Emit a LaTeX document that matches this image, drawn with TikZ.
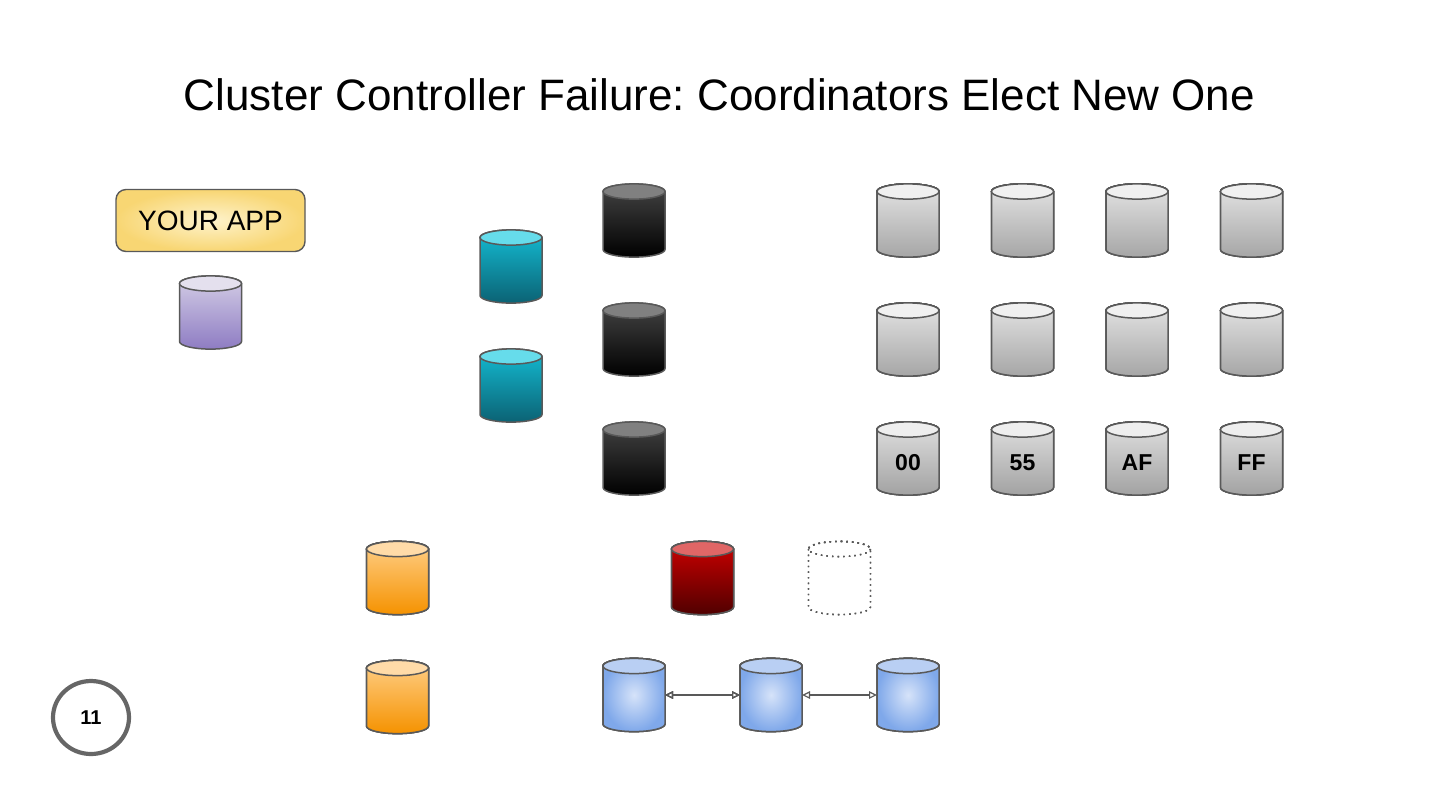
\documentclass[tikz,border=0pt]{standalone}
\usepackage{fontspec}
\setmainfont{Liberation Sans}
\frenchspacing
\usetikzlibrary{arrows.meta,shapes.geometric}
\definecolor{Edge}{HTML}{595959}
\definecolor{Ring}{HTML}{666666}
\definecolor{AppSoft}{HTML}{FEF3CC}
\definecolor{AppDeep}{HTML}{F8D673}
\definecolor{StoreCap}{HTML}{F0F0F0}
\definecolor{StoreHi}{HTML}{E4E4E4}
\definecolor{StoreLo}{HTML}{A6A6A6}
\definecolor{KeyCap}{HTML}{EEEEEE}
\definecolor{KeyHi}{HTML}{E0E0E0}
\definecolor{KeyLo}{HTML}{A2A2A2}
\definecolor{ClientCap}{HTML}{E4E0EE}
\definecolor{ClientHi}{HTML}{D4CEE6}
\definecolor{ClientLo}{HTML}{8E7CC3}
\definecolor{ProxyCap}{HTML}{66DCEB}
\definecolor{ProxyHi}{HTML}{14BCD3}
\definecolor{ProxyLo}{HTML}{0B6274}
\definecolor{LogCap}{HTML}{808080}
\definecolor{LogHi}{HTML}{444444}
\definecolor{LogLo}{HTML}{000000}
\definecolor{ResCap}{HTML}{FFDBA8}
\definecolor{ResHi}{HTML}{FFCF88}
\definecolor{ResLo}{HTML}{F59200}
\definecolor{FailCap}{HTML}{E06666}
\definecolor{FailHi}{HTML}{CC0000}
\definecolor{FailLo}{HTML}{500000}
\definecolor{CoordCap}{HTML}{B9CFF3}
\definecolor{CoordSoft}{HTML}{D6E3F9}
\definecolor{CoordDeep}{HTML}{7FA8EA}
\tikzset{
  drum/.style={rectangle,minimum width=31pt,minimum height=36.5pt,inner sep=0pt,outer sep=0pt,
    text height=12pt,text depth=0pt,font=\bfseries\fontsize{11.5}{13}\selectfont},
  edge/.style={draw=Edge,line width=.75pt},
  store/.style={edge,top color=StoreHi,bottom color=StoreLo},
  storecap/.style={edge,fill=StoreCap},
  keyed/.style={edge,top color=KeyHi,bottom color=KeyLo},
  keyedcap/.style={edge,fill=KeyCap},
  client/.style={edge,top color=ClientHi,bottom color=ClientLo},
  clientcap/.style={edge,fill=ClientCap},
  proxy/.style={edge,top color=ProxyHi,bottom color=ProxyLo},
  proxycap/.style={edge,fill=ProxyCap},
  tlog/.style={edge,top color=LogHi,bottom color=LogLo},
  tlogcap/.style={edge,fill=LogCap},
  resolver/.style={edge,top color=ResHi,bottom color=ResLo},
  resolvercap/.style={edge,fill=ResCap},
  failed/.style={edge,top color=FailHi,bottom color=FailLo},
  failedcap/.style={edge,fill=FailCap},
  coord/.style={edge,inner color=CoordSoft,outer color=CoordDeep},
  coordcap/.style={edge,fill=CoordCap},
  gone/.style={draw=Edge,line width=.7pt,dash pattern=on .7pt off 2.1pt},
  gonecap/.style={gone},
  appbox/.style={draw=Edge,rounded corners=5pt,line width=.7pt,inner color=AppSoft,outer color=AppDeep,
    minimum width=94.5pt,minimum height=31pt,text height=10.4pt,text depth=0pt,font=\fontsize{14}{16}\selectfont},
  link/.style={{Triangle[open,length=4pt,width=3.8pt]}-{Triangle[open,length=4pt,width=3.8pt]},draw=Edge,line width=.6pt}
}
% name, centre, look, label
\newcommand{\drum}[4]{
  \begin{scope}[shift={(#2)}]
    \path[#3] (-31,-29) -- (-31,29) arc [start angle=180,end angle=0,x radius=31,y radius=7.6]
      -- (31,-29) arc [start angle=0,end angle=-180,x radius=31,y radius=7.6] -- cycle;
    \path[#3cap] (0,-29) ellipse [x radius=31,y radius=7.6];
    \node[drum] (#1) at (0,0) {#4};
  \end{scope}
}
\begin{document}
\begin{tikzpicture}[x=.5pt,y=-.5pt]
  \useasboundingbox (0,0) rectangle (1440,810);
  \node[font=\fontsize{22}{26}\selectfont] (title) at (719.5,95) {Cluster Controller Failure: Coordinators Elect New One};
  \node[appbox] (app) at (210.5,220.5) {YOUR APP};
  \drum{client}{210.5,312.5}{client}{}
  \drum{proxya}{511,266.5}{proxy}{}
  \drum{proxyb}{511,385.5}{proxy}{}
  \foreach \name/\y in {loga/220.5,logb/339.5,logc/458.5}
    \drum{\name}{634,\y}{tlog}{}
  \foreach \col/\x in {a/908,b/1022.5,c/1137,d/1251.5} {
    \drum{top\col}{\x,220.5}{store}{}
    \drum{mid\col}{\x,339.5}{store}{}
  }
  \drum{key00}{908,458.5}{keyed}{00}
  \drum{key55}{1022.5,458.5}{keyed}{55}
  \drum{keyAF}{1137,458.5}{keyed}{AF}
  \drum{keyFF}{1251.5,458.5}{keyed}{FF}
  \drum{resa}{397.5,578}{resolver}{}
  \drum{resb}{397.5,697}{resolver}{}
  \drum{master}{702.5,578}{failed}{}
  \drum{ghost}{839.5,578}{gone}{}
  \drum{coorda}{634,695}{coord}{}
  \drum{coordb}{771,695}{coord}{}
  \drum{coordc}{908,695}{coord}{}
  \draw[link] (coorda) -- (coordb);
  \draw[link] (coordb) -- (coordc);
  \node[ellipse,draw=Ring,line width=2.1pt,minimum width=38pt,minimum height=36.5pt,inner sep=0pt,font=\bfseries\fontsize{10}{12}\selectfont] (page) at (91,717.5) {11};
\end{tikzpicture}
\end{document}
